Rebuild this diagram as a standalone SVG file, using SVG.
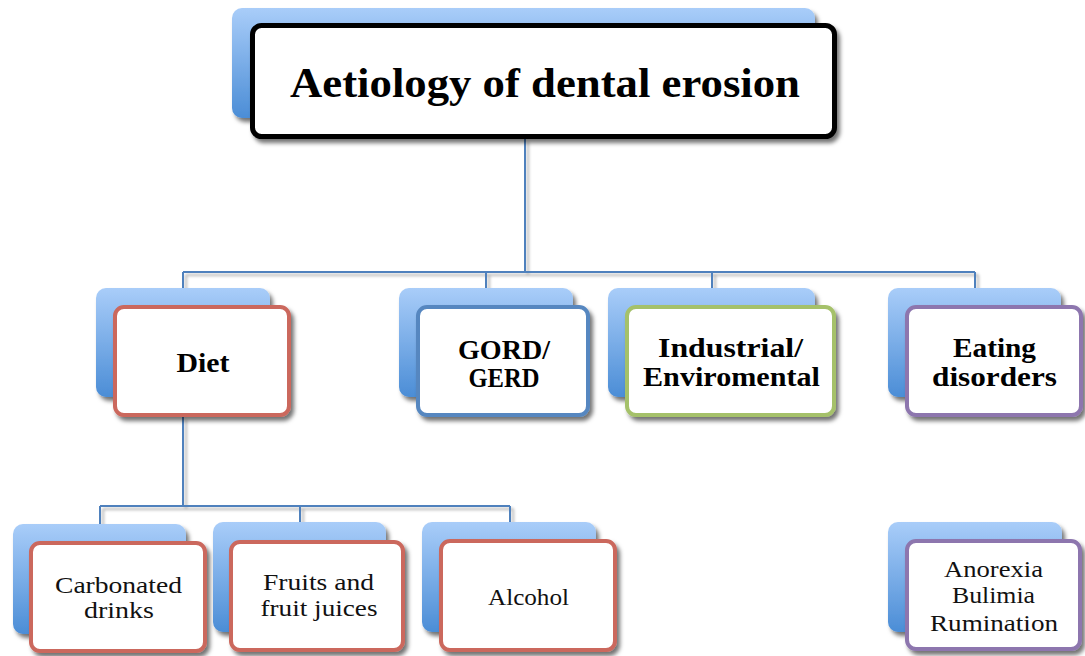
<svg xmlns="http://www.w3.org/2000/svg" width="1085" height="656" viewBox="0 0 1085 656">
  <defs>
    <linearGradient id="blueGrad" x1="0" y1="0" x2="0" y2="1">
      <stop offset="0" stop-color="#a9cdf9"/>
      <stop offset="1" stop-color="#4b8dd6"/>
    </linearGradient>
    <filter id="shadow" x="-10%" y="-10%" width="130%" height="140%">
      <feDropShadow dx="3" dy="4" stdDeviation="2.2" flood-color="#000" flood-opacity="0.55"/>
    </filter>
    <filter id="lineShadow" x="-10%" y="-10%" width="130%" height="130%">
      <feDropShadow dx="3" dy="3" stdDeviation="1.8" flood-color="#000" flood-opacity="0.3"/>
    </filter>
  </defs>
  <style>
    .back { fill: url(#blueGrad); filter: url(#shadow); }
    .front { fill: #ffffff; stroke-width: 4; filter: url(#shadow); }
    .red { stroke: #cb675d; }
    .blue { stroke: #5787c0; }
    .green { stroke: #a5c16a; }
    .purple { stroke: #8d76ae; }
    .conn { fill: none; stroke: #4f81bd; stroke-width: 2; filter: url(#lineShadow); }
    .title { font-family: "Liberation Serif", "DejaVu Serif", serif; font-weight: bold; font-size: 43px; fill: #000; }
    .l2 { font-family: "Liberation Serif", "DejaVu Serif", serif; font-weight: bold; font-size: 27px; fill: #000; }
    .l3 { font-family: "Liberation Serif", "DejaVu Serif", serif; font-size: 24px; fill: #111; }
  </style>

  <g id="connectors">
    <path class="conn" d="M525 139 V272 M183 272 H975 M183 272 V288 M486 272 V288 M712 272 V288 M975 272 V288"/>
    <path class="conn" d="M183 417 V506 M100 506 H510 M100 506 V524 M300 506 V522 M510 506 V522"/>
    <path class="conn" d="M975 417 V522"/>
  </g>

  <g id="node-root">
    <rect class="back" x="232" y="8" width="583" height="110" rx="10"/>
    <rect x="252.5" y="25.5" width="582" height="111" rx="9" fill="#fff" stroke="#000" stroke-width="5" filter="url(#shadow)"/>
    <text class="title" x="545" y="97" text-anchor="middle" textLength="510" lengthAdjust="spacingAndGlyphs">Aetiology of dental erosion</text>
  </g>

  <g id="node-diet">
    <rect class="back" x="96" y="288" width="174" height="109" rx="10"/>
    <rect class="front red" x="115" y="307" width="174" height="108" rx="9"/>
    <text class="l2" x="203" y="372" text-anchor="middle" textLength="53" lengthAdjust="spacingAndGlyphs">Diet</text>
  </g>

  <g id="node-gord">
    <rect class="back" x="399" y="288" width="174" height="109" rx="10"/>
    <rect class="front blue" x="418" y="307" width="170" height="108" rx="9"/>
    <text class="l2" x="504" y="359" text-anchor="middle" textLength="92" lengthAdjust="spacingAndGlyphs">GORD/</text>
    <text class="l2" x="504" y="387" text-anchor="middle" textLength="71" lengthAdjust="spacingAndGlyphs">GERD</text>
  </g>

  <g id="node-industrial">
    <rect class="back" x="608" y="288" width="207" height="109" rx="10"/>
    <rect class="front green" x="627" y="307" width="207" height="108" rx="9"/>
    <text class="l2" x="730.5" y="357" text-anchor="middle" textLength="145" lengthAdjust="spacingAndGlyphs">Industrial/</text>
    <text class="l2" x="731.5" y="386" text-anchor="middle" textLength="177" lengthAdjust="spacingAndGlyphs">Enviromental</text>
  </g>

  <g id="node-eating">
    <rect class="back" x="888" y="288" width="173" height="109" rx="10"/>
    <rect class="front purple" x="907" y="307" width="174" height="108" rx="9"/>
    <text class="l2" x="994.5" y="357" text-anchor="middle" textLength="83" lengthAdjust="spacingAndGlyphs">Eating</text>
    <text class="l2" x="994.5" y="386" text-anchor="middle" textLength="125" lengthAdjust="spacingAndGlyphs">disorders</text>
  </g>

  <g id="node-carbonated">
    <rect class="back" x="13" y="524" width="173" height="110" rx="10"/>
    <rect class="front red" x="31" y="543" width="174" height="108" rx="9"/>
    <text class="l3" x="118.5" y="593" text-anchor="middle" textLength="127" lengthAdjust="spacingAndGlyphs">Carbonated</text>
    <text class="l3" x="119" y="618" text-anchor="middle" textLength="70" lengthAdjust="spacingAndGlyphs">drinks</text>
  </g>

  <g id="node-fruits">
    <rect class="back" x="213" y="522" width="173" height="110" rx="10"/>
    <rect class="front red" x="231" y="542" width="172" height="108" rx="9"/>
    <text class="l3" x="318.5" y="590" text-anchor="middle" textLength="111" lengthAdjust="spacingAndGlyphs">Fruits and</text>
    <text class="l3" x="319" y="616" text-anchor="middle" textLength="117" lengthAdjust="spacingAndGlyphs">fruit juices</text>
  </g>

  <g id="node-alcohol">
    <rect class="back" x="422" y="522" width="174" height="110" rx="10"/>
    <rect class="front red" x="441" y="541" width="174" height="109" rx="9"/>
    <text class="l3" x="528.5" y="605" text-anchor="middle" textLength="81" lengthAdjust="spacingAndGlyphs">Alcohol</text>
  </g>

  <g id="node-anorexia">
    <rect class="back" x="888" y="522" width="174" height="110" rx="10"/>
    <rect class="front purple" x="907" y="541" width="173" height="108" rx="9"/>
    <text class="l3" x="993.5" y="577" text-anchor="middle" textLength="99" lengthAdjust="spacingAndGlyphs">Anorexia</text>
    <text class="l3" x="993.5" y="603" text-anchor="middle" textLength="83" lengthAdjust="spacingAndGlyphs">Bulimia</text>
    <text class="l3" x="994" y="631" text-anchor="middle" textLength="128" lengthAdjust="spacingAndGlyphs">Rumination</text>
  </g>
</svg>
